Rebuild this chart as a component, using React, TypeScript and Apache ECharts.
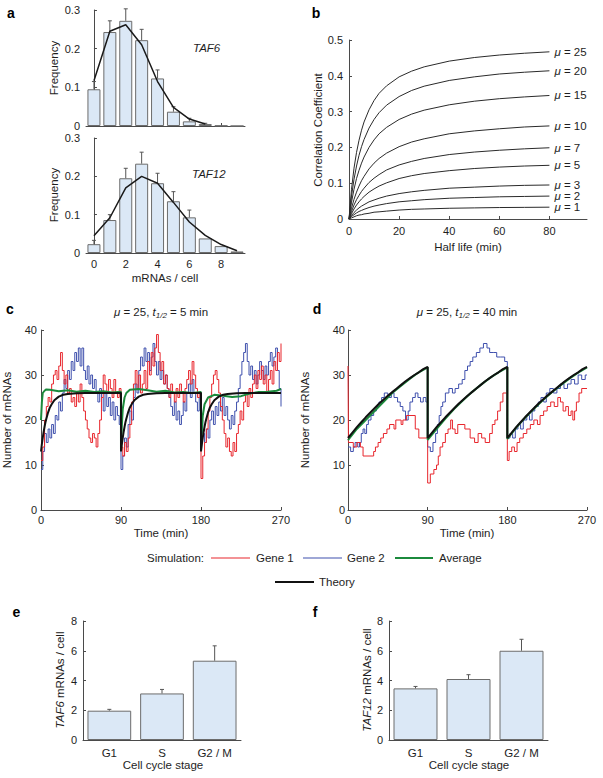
import React, { useEffect, useRef } from "react";
import * as echarts from "echarts";

const FONT = "'Liberation Sans', Arial, Helvetica, sans-serif";
const TXT = "#1e1e1e";
const AXIS = "#4a4a4a";

// ---------- Panel a ----------
const countsX = [0, 1, 2, 3, 4, 5, 6, 7, 8, 9];
const taf6Freq = [0.095, 0.243, 0.272, 0.222, 0.123, 0.037, 0.012, 0.005, 0.001, 0];
const taf6ErrTop = [0.115, 0.272, 0.303, 0.25, 0.145, 0.05, 0.02, 0.007, null, null];
const taf6Theory = [0.117, 0.245, 0.262, 0.21, 0.115, 0.048, 0.018, 0.005];
const taf12Freq = [0.023, 0.086, 0.195, 0.233, 0.182, 0.135, 0.093, 0.038, 0.018, 0.004];
const taf12ErrTop = [0.033, 0.1, 0.221, 0.263, 0.208, 0.16, 0.112, null, null, null];
const taf12Theory = [0.045, 0.092, 0.17, 0.2, 0.182, 0.132, 0.081, 0.046, 0.022, 0.006];
const aTicks = [0, 2, 4, 6, 8];

// ---------- Panel b ----------
const halfLife = [0, 1, 2, 3, 4, 5, 6, 8, 10, 12, 15, 20, 25, 30, 40, 50, 60, 70, 80];
const muLevels = [25, 20, 15, 10, 7, 5, 3, 2, 1];
const corrMu25 = [0, 0.083, 0.142, 0.186, 0.22, 0.248, 0.271, 0.305, 0.331, 0.351, 0.372, 0.397, 0.413, 0.425, 0.441, 0.451, 0.458, 0.463, 0.467];
const corrMu20 = [0, 0.064, 0.111, 0.148, 0.178, 0.202, 0.222, 0.254, 0.278, 0.297, 0.318, 0.342, 0.359, 0.371, 0.387, 0.397, 0.405, 0.41, 0.414];
const corrMu15 = [0, 0.047, 0.083, 0.113, 0.136, 0.156, 0.173, 0.2, 0.221, 0.238, 0.256, 0.278, 0.293, 0.304, 0.319, 0.329, 0.336, 0.341, 0.345];
const corrMu10 = [0, 0.03, 0.055, 0.075, 0.092, 0.107, 0.119, 0.14, 0.156, 0.169, 0.184, 0.202, 0.215, 0.224, 0.238, 0.246, 0.252, 0.257, 0.26];
const corrMu7 = [0, 0.021, 0.039, 0.054, 0.066, 0.077, 0.086, 0.102, 0.114, 0.124, 0.137, 0.151, 0.161, 0.169, 0.18, 0.187, 0.192, 0.196, 0.199];
const corrMu5 = [0, 0.015, 0.028, 0.039, 0.048, 0.056, 0.063, 0.075, 0.084, 0.092, 0.101, 0.113, 0.121, 0.127, 0.135, 0.141, 0.145, 0.148, 0.15];
const corrMu3 = [0, 0.01, 0.018, 0.025, 0.031, 0.036, 0.04, 0.048, 0.053, 0.058, 0.064, 0.071, 0.076, 0.08, 0.086, 0.089, 0.092, 0.094, 0.095];
const corrMu2 = [0, 0.007, 0.012, 0.017, 0.021, 0.024, 0.027, 0.032, 0.036, 0.039, 0.043, 0.048, 0.051, 0.054, 0.058, 0.06, 0.062, 0.063, 0.064];
const corrMu1 = [0, 0.003, 0.006, 0.009, 0.011, 0.012, 0.014, 0.016, 0.019, 0.02, 0.022, 0.025, 0.027, 0.028, 0.03, 0.031, 0.032, 0.0325, 0.033];
const corrCurves = [corrMu25, corrMu20, corrMu15, corrMu10, corrMu7, corrMu5, corrMu3, corrMu2, corrMu1];
const bTicks = [0, 20, 40, 60, 80];

// ---------- Panel c (t1/2 = 5 min), sampled every 2 min from 0 to 270 ----------
const cSampleStep = 2;
const cGene1 = [
  11, 14, 20, 23, 25, 24, 28, 30, 31, 29, 32, 35, 31, 28, 30, 26, 27, 24, 25, 23, 26, 24, 28, 25, 22, 20, 18, 16, 15, 17, 16, 14, 17, 20, 25, 30, 28, 26, 29, 27, 25, 29, 26, 25, 27,
  14, 12, 15, 13, 16, 19, 24, 28, 31, 27, 30, 26, 28, 31, 27, 33, 30, 35, 32, 36, 39, 35, 31, 33, 28, 30, 27, 25, 28, 26, 24, 27, 25, 28, 26, 24, 27, 29, 31, 28, 33, 30, 27, 25, 26,
  7, 12, 15, 18, 22, 25, 28, 30, 31, 29, 26, 23, 20, 17, 14, 16, 13, 12, 15, 13, 17, 19, 22, 20, 24, 26, 23, 27, 25, 28, 30, 27, 31, 29, 32, 28, 30, 26, 29, 31, 28, 33, 31, 35, 33, 37,
];
const cGene2 = [
  9, 13, 17, 15, 18, 16, 19, 17, 21, 20, 24, 22, 26, 29, 27, 31, 29, 33, 31, 35, 33, 36, 32, 36, 31, 29, 32, 28, 30, 27, 29, 26, 24, 27, 25, 22, 26, 23, 25, 21, 24, 20, 23, 21, 19,
  9, 12, 16, 14, 19, 22, 20, 25, 28, 26, 31, 34, 32, 36, 33, 35, 31, 34, 37, 33, 30, 33, 29, 31, 28, 30, 27, 25, 23, 21, 24, 20, 22, 19, 21, 24, 22, 26, 28, 25, 29, 26, 24, 22, 25,
  20, 17, 15, 18, 16, 20, 22, 19, 23, 21, 24, 22, 25, 21, 23, 20, 18, 21, 19, 22, 24, 27, 30, 33, 35, 37, 33, 30, 32, 29, 31, 28, 30, 33, 31, 29, 32, 30, 33, 35, 32, 34, 36, 31, 27, 23,
];
const cAverage = [
  [0, 20], [1, 24], [2, 26], [4, 26.5], [6, 26.8], [10, 26.7], [20, 26.4], [30, 26.6], [40, 26.3], [50, 26.5], [60, 26.2], [70, 26.4], [80, 26.1], [89.9, 26.3],
  [90, 13.5], [91, 19], [92, 22.5], [94, 25], [96, 26], [100, 26.7], [110, 26.9], [120, 26.6], [130, 26.3], [140, 26.5], [150, 26.1], [160, 26.2], [170, 26.0], [179.9, 26.2],
  [180, 13.5], [181, 18], [182, 21], [184, 23.5], [188, 25], [195, 25.6], [205, 25.4], [215, 25.1], [225, 25.3], [235, 25.9], [245, 26.2], [255, 26.3], [265, 26.5], [270, 26.9],
];
const cycleStarts = [0, 90, 180];
const cTheoryT = [0, 1, 2, 3, 4, 5, 6, 8, 10, 12, 15, 20, 25, 30, 40, 50, 60, 70, 80, 90];
const cTheoryN = [13, 14.7, 16.1, 17.4, 18.5, 19.5, 20.3, 21.7, 22.8, 23.5, 24.4, 25.2, 25.6, 25.8, 25.95, 26, 26, 26, 26, 26];

// ---------- Panel d (t1/2 = 40 min) ----------
const dGene1 = [
  [0, 32], [0.5, 15], [6, 14], [10, 15], [14, 14], [17, 12], [29, 13], [31, 14], [34, 15], [37, 16], [40, 17], [44, 18], [47, 19], [52, 18], [54, 20], [60, 19], [62, 20], [66, 21], [76, 18], [80, 16],
  [90, 6], [93, 8], [97, 9], [100, 10], [102, 12], [104, 14], [107, 15], [110, 17], [113, 18], [116, 20], [118, 18], [121, 17], [124, 19], [132, 18], [138, 16], [143, 15], [147, 17], [151, 16], [155, 15], [160, 17], [163, 19], [166, 20], [169, 22], [172, 24], [175, 26],
  [180, 11], [182, 13], [185, 14], [188, 13], [191, 15], [194, 16], [198, 17], [202, 18], [206, 19], [210, 20], [214, 19], [217, 21], [221, 22], [225, 23], [229, 24], [233, 23], [237, 25], [240, 24], [243, 22], [246, 23], [249, 21], [252, 22], [254, 20], [256, 22], [258, 24], [261, 26], [264, 27], [270, 27],
];
const dGene2 = [
  [0, 14], [3, 13], [6, 14], [8, 15], [11, 14], [13, 15], [15, 17], [17, 18], [19, 17], [21, 19], [23, 20], [26, 21], [29, 22], [32, 23], [35, 24], [38, 25], [41, 26], [45, 25], [49, 26], [52, 25], [56, 24], [59, 23], [62, 22], [65, 20], [68, 22], [70, 24], [73, 25], [76, 26], [79, 25], [82, 24], [85, 25], [88, 24],
  [90, 14], [93, 13], [96, 15], [99, 17], [101, 19], [103, 21], [105, 23], [107, 24], [110, 26], [114, 27], [118, 26], [121, 27], [125, 28], [129, 29], [132, 31], [135, 32], [138, 33], [141, 34], [145, 35], [149, 36], [153, 37], [157, 36], [160, 35], [164, 35], [168, 34], [172, 34], [177, 33],
  [180, 16], [183, 17], [186, 16], [189, 18], [192, 19], [195, 18], [198, 20], [202, 21], [205, 20], [208, 22], [211, 23], [215, 24], [218, 25], [221, 24], [224, 26], [228, 27], [232, 26], [236, 27], [240, 28], [244, 27], [248, 28], [252, 29], [256, 28], [260, 30], [264, 29], [268, 30], [270, 30],
];
const dAverage = [
  [0, 15.5], [10, 18], [20, 20], [30, 22], [40, 24], [50, 26], [60, 27.6], [70, 29.2], [80, 30.6], [90, 31.7],
  [90, 15.6], [100, 18], [110, 20.3], [120, 22.5], [130, 24.4], [140, 26.2], [150, 27.8], [160, 29.3], [170, 30.6], [180, 31.7],
  [180, 15.8], [190, 18.3], [200, 20.5], [210, 22.5], [220, 24.4], [230, 26.1], [240, 27.7], [250, 29.2], [260, 30.5], [270, 31.7],
];
const dTheoryT = [0, 5, 10, 15, 20, 25, 30, 35, 40, 45, 50, 55, 60, 65, 70, 75, 80, 85, 90];
const dTheoryN = [16.0, 17.2, 18.4, 19.5, 20.6, 21.6, 22.6, 23.6, 24.5, 25.4, 26.2, 27.0, 27.8, 28.6, 29.3, 30.0, 30.6, 31.3, 31.8];

// ---------- Panels e, f ----------
const stages = ["G1", "S", "G2 / M"];
const taf6Stage = [1.97, 3.13, 5.33];
const taf6StageErrTop = [2.06, 3.4, 6.33];
const taf12Stage = [3.47, 4.1, 6.0];
const taf12StageErrTop = [3.6, 4.39, 6.77];

const RED = "#e8262d";
const BLUE = "#3f50ad";
const GREEN = "#1b8a3c";
const BLACK = "#111111";
const BAR_FILL = "#dbe8f6";
const BAR_EDGE = "#6c6c6c";

function cycleCurve(ts: number[], ns: number[]) {
  const out: number[][] = [];
  cycleStarts.forEach((s) => ts.forEach((t, i) => out.push([s + t, ns[i]])));
  return out;
}

function errRender(params: any, api: any) {
  const x = api.value(0);
  const y = api.value(1);
  const e = api.value(2);
  if (e == null || isNaN(e)) return null;
  const p0 = api.coord([x, y]);
  const p1 = api.coord([x, e]);
  return {
    type: "group",
    children: [
      { type: "line", shape: { x1: p0[0], y1: p0[1], x2: p1[0], y2: p1[1] }, style: { stroke: "#555", lineWidth: 1 } },
      { type: "line", shape: { x1: p1[0] - 2, y1: p1[1], x2: p1[0] + 2, y2: p1[1] }, style: { stroke: "#555", lineWidth: 1 } },
    ],
  };
}

const axisLabelBase = { fontSize: 11, color: TXT, fontFamily: FONT, margin: 5 };
const axisLineBase = { show: true, lineStyle: { color: AXIS, width: 1 } };
const tickIn = { show: true, inside: true, length: 3, lineStyle: { color: AXIS } };

function valAxis(gridIndex: number, min: number, max: number, interval: number, extra: any = {}) {
  return {
    type: "value",
    gridIndex,
    min,
    max,
    interval,
    splitLine: { show: false },
    axisLine: axisLineBase,
    axisTick: tickIn,
    axisLabel: axisLabelBase,
    ...extra,
  };
}

function text(x: number, y: number, t: string, extra: any = {}, rot = 0) {
  return {
    type: "text",
    x,
    y,
    rotation: rot,
    style: {
      text: t,
      fontSize: 11.5,
      fontFamily: FONT,
      fill: TXT,
      align: "center",
      verticalAlign: "middle",
      ...extra,
    },
  };
}

function hline(x1: number, x2: number, y: number, color: string, w: number) {
  return { type: "line", shape: { x1, y1: y, x2, y2: y }, style: { stroke: color, lineWidth: w } };
}

const italicRich = {
  i: { fontStyle: "italic", fontSize: 11.5, fontFamily: FONT, fill: TXT },
  s: { fontStyle: "italic", fontSize: 8, fontFamily: FONT, fill: TXT, padding: [7, 0, 0, 0] },
};

function buildOption() {
  const series: any[] = [];

  // a top
  series.push({
    type: "bar", xAxisIndex: 0, yAxisIndex: 0, barWidth: 13, z: 2,
    data: countsX.map((x, i) => [x, taf6Freq[i]]),
    itemStyle: { color: BAR_FILL, borderColor: BAR_EDGE, borderWidth: 1 },
  });
  series.push({
    type: "custom", xAxisIndex: 0, yAxisIndex: 0, z: 3, renderItem: errRender,
    data: countsX.map((x, i) => [x, taf6Freq[i], taf6ErrTop[i]]).filter((d) => d[2] != null),
  });
  series.push({
    type: "line", xAxisIndex: 0, yAxisIndex: 0, z: 4, symbol: "none",
    data: taf6Theory.map((v, i) => [countsX[i], v]),
    lineStyle: { color: "#1a1a1a", width: 1.5 },
  });
  // a bottom
  series.push({
    type: "bar", xAxisIndex: 1, yAxisIndex: 1, barWidth: 13, z: 2,
    data: countsX.map((x, i) => [x, taf12Freq[i]]),
    itemStyle: { color: BAR_FILL, borderColor: BAR_EDGE, borderWidth: 1 },
  });
  series.push({
    type: "custom", xAxisIndex: 1, yAxisIndex: 1, z: 3, renderItem: errRender,
    data: countsX.map((x, i) => [x, taf12Freq[i], taf12ErrTop[i]]).filter((d) => d[2] != null),
  });
  series.push({
    type: "line", xAxisIndex: 1, yAxisIndex: 1, z: 4, symbol: "none",
    data: taf12Theory.map((v, i) => [countsX[i], v]),
    lineStyle: { color: "#1a1a1a", width: 1.5 },
  });

  // b
  corrCurves.forEach((curve, k) => {
    const mu = muLevels[k];
    series.push({
      type: "line", xAxisIndex: 2, yAxisIndex: 2, symbol: "none",
      data: curve.map((v, i) => [halfLife[i], v]),
      lineStyle: { color: "#2a2a2a", width: 1 },
      endLabel: {
        show: true,
        distance: 5,
        formatter: () => `{i|μ} = ${mu}`,
        fontSize: 11.5,
        fontFamily: FONT,
        color: TXT,
        rich: { i: { fontStyle: "italic", fontSize: 11.5, fontFamily: FONT, color: TXT } },
      },
    });
  });

  // c
  series.push({
    type: "line", xAxisIndex: 3, yAxisIndex: 3, symbol: "none", step: "end",
    data: cGene2.map((v, i) => [i * cSampleStep, v]), lineStyle: { color: BLUE, width: 1 },
  });
  series.push({
    type: "line", xAxisIndex: 3, yAxisIndex: 3, symbol: "none", step: "end",
    data: cGene1.map((v, i) => [i * cSampleStep, v]), lineStyle: { color: RED, width: 1 },
  });
  series.push({
    type: "line", xAxisIndex: 3, yAxisIndex: 3, symbol: "none",
    data: cAverage, lineStyle: { color: GREEN, width: 2 },
  });
  series.push({
    type: "line", xAxisIndex: 3, yAxisIndex: 3, symbol: "none",
    data: cycleCurve(cTheoryT, cTheoryN), lineStyle: { color: BLACK, width: 2 },
  });

  // d
  series.push({
    type: "line", xAxisIndex: 4, yAxisIndex: 4, symbol: "none", step: "end",
    data: dGene2, lineStyle: { color: BLUE, width: 1 },
  });
  series.push({
    type: "line", xAxisIndex: 4, yAxisIndex: 4, symbol: "none", step: "end",
    data: dGene1, lineStyle: { color: RED, width: 1 },
  });
  series.push({
    type: "line", xAxisIndex: 4, yAxisIndex: 4, symbol: "none",
    data: dAverage, lineStyle: { color: GREEN, width: 2 },
  });
  series.push({
    type: "line", xAxisIndex: 4, yAxisIndex: 4, symbol: "none",
    data: cycleCurve(dTheoryT, dTheoryN), lineStyle: { color: BLACK, width: 2 },
  });

  // e
  series.push({
    type: "bar", xAxisIndex: 5, yAxisIndex: 5, barWidth: "83%", z: 2,
    data: taf6Stage, itemStyle: { color: BAR_FILL, borderColor: BAR_EDGE, borderWidth: 1 },
  });
  series.push({
    type: "custom", xAxisIndex: 5, yAxisIndex: 5, z: 3, renderItem: errRender,
    data: taf6Stage.map((v, i) => [i, v, taf6StageErrTop[i]]),
  });
  // f
  series.push({
    type: "bar", xAxisIndex: 6, yAxisIndex: 6, barWidth: "83%", z: 2,
    data: taf12Stage, itemStyle: { color: BAR_FILL, borderColor: BAR_EDGE, borderWidth: 1 },
  });
  series.push({
    type: "custom", xAxisIndex: 6, yAxisIndex: 6, z: 3, renderItem: errRender,
    data: taf12Stage.map((v, i) => [i, v, taf12StageErrTop[i]]),
  });

  const catAxis = (gridIndex: number) => ({
    type: "category", gridIndex, data: stages,
    axisLine: axisLineBase, axisTick: { show: false },
    axisLabel: { ...axisLabelBase, fontSize: 11.5, margin: 7 },
  });

  const graphic: any[] = [
    // panel letters
    text(11, 12.5, "a", { fontSize: 14, fontWeight: "bold", fill: "#000" }),
    text(316, 12.5, "b", { fontSize: 14, fontWeight: "bold", fill: "#000" }),
    text(10, 309, "c", { fontSize: 14, fontWeight: "bold", fill: "#000" }),
    text(317, 309, "d", { fontSize: 14, fontWeight: "bold", fill: "#000" }),
    text(16.5, 611.5, "e", { fontSize: 14, fontWeight: "bold", fill: "#000" }),
    text(315, 612, "f", { fontSize: 14, fontWeight: "bold", fill: "#000" }),
    // panel a
    text(54, 68, "Frequency", {}, Math.PI / 2),
    text(54, 195, "Frequency", {}, Math.PI / 2),
    text(193, 47.5, "TAF6", { align: "left", fontStyle: "italic" }),
    text(192, 174, "TAF12", { align: "left", fontStyle: "italic" }),
    text(165, 278, "mRNAs / cell"),
    // panel b
    text(318, 130, "Correlation Coefficient", {}, Math.PI / 2),
    text(468, 247, "Half life (min)"),
    // panel c / d
    text(161, 312, "{i|μ} = 25, {i|t}{s|1/2} = 5 min", { rich: italicRich }),
    text(467, 312, "{i|μ} = 25, {i|t}{s|1/2} = 40 min", { rich: italicRich }),
    text(7, 420, "Number of mRNAs", {}, Math.PI / 2),
    text(305, 420, "Number of mRNAs", {}, Math.PI / 2),
    text(161, 533, "Time (min)"),
    text(467, 533, "Time (min)"),
    // legend
    text(204, 558, "Simulation:", { align: "right" }),
    hline(211, 250, 558, RED, 1.2),
    text(256, 558, "Gene 1", { align: "left" }),
    hline(303, 342, 558, BLUE, 1.2),
    text(347, 558, "Gene 2", { align: "left" }),
    hline(395, 433, 558, GREEN, 2),
    text(439, 558, "Average", { align: "left" }),
    hline(275, 314, 582, BLACK, 2),
    text(319, 582, "Theory", { align: "left" }),
    // panel e / f
    text(60, 680, "{i|TAF6} mRNAs / cell", { rich: italicRich }, Math.PI / 2),
    text(367, 680, "{i|TAF12} mRNAs / cell", { rich: italicRich }, Math.PI / 2),
    text(163, 765, "Cell cycle stage"),
    text(469, 765, "Cell cycle stage"),
  ];

  return {
    animation: false,
    backgroundColor: "#ffffff",
    textStyle: { fontFamily: FONT },
    grid: [
      { left: 86, top: 10, width: 159, height: 116 },
      { left: 86, top: 138, width: 159, height: 115 },
      { left: 349, top: 40, width: 238, height: 179 },
      { left: 41, top: 330, width: 240, height: 180 },
      { left: 348, top: 330, width: 239, height: 180 },
      { left: 83, top: 621, width: 158, height: 119 },
      { left: 389, top: 621, width: 159, height: 119 },
    ],
    xAxis: [
      valAxis(0, -0.5, 9.5, 1, {
        axisLabel: { show: false },
        axisTick: { ...tickIn, customValues: aTicks },
      }),
      valAxis(1, -0.5, 9.5, 1, {
        axisLabel: { ...axisLabelBase, customValues: aTicks },
        axisTick: { ...tickIn, customValues: aTicks },
      }),
      valAxis(2, 0, 95, 5, {
        axisLabel: { ...axisLabelBase, margin: 6, customValues: bTicks },
        axisTick: { ...tickIn, customValues: bTicks },
      }),
      valAxis(3, 0, 270, 90, { axisLabel: { ...axisLabelBase, margin: 4 } }),
      valAxis(4, 0, 270, 90, { axisLabel: { ...axisLabelBase, margin: 4 } }),
      catAxis(5),
      catAxis(6),
    ],
    yAxis: [
      valAxis(0, 0, 0.3, 0.1, { axisLabel: { ...axisLabelBase, margin: 6 } }),
      valAxis(1, 0, 0.3, 0.1, { axisLabel: { ...axisLabelBase, margin: 6 } }),
      valAxis(2, 0, 0.5, 0.1, { axisLabel: { ...axisLabelBase, margin: 6 } }),
      valAxis(3, 0, 40, 10, { axisLabel: { ...axisLabelBase, margin: 4 } }),
      valAxis(4, 0, 40, 10, { axisLabel: { ...axisLabelBase, margin: 3 } }),
      valAxis(5, 0, 8, 2, { axisLabel: { ...axisLabelBase, margin: 6 } }),
      valAxis(6, 0, 8, 2, { axisLabel: { ...axisLabelBase, margin: 6 } }),
    ],
    series,
    graphic,
  };
}

export default function App() {
  const ref = useRef<HTMLDivElement>(null);
  useEffect(() => {
    const chart = echarts.init(ref.current!, null, { renderer: "svg" });
    chart.setOption(buildOption() as any);
    return () => chart.dispose();
  }, []);
  return (
    <div
      ref={ref}
      style={{ position: "absolute", left: 0, top: 0, width: 603, height: 778, background: "#fff" }}
    />
  );
}
